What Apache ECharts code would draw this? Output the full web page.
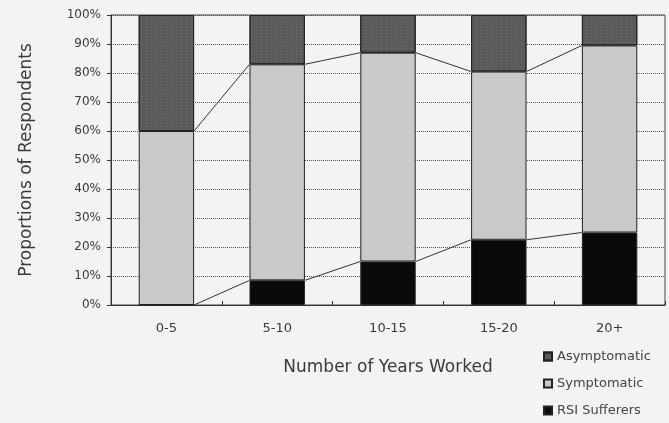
<!DOCTYPE html>
<html><head><meta charset="utf-8">
<script src="https://cdn.jsdelivr.net/npm/echarts@6/dist/echarts.min.js"></script>
<style>html,body{margin:0;padding:0;background:#f3f3f1;}#c{width:669px;height:423px;}</style>
</head><body><div id="c"></div>
<script>
const categories = ['0-5', '5-10', '10-15', '15-20', '20+'];
const rsiSufferers = [0, 8.5, 15, 22.5, 25];
const symptomatic = [60, 74.5, 72, 58, 64.5];
const asymptomatic = [40, 17, 13, 19.5, 10.5];
const yTicks = [0, 10, 20, 30, 40, 50, 60, 70, 80, 90, 100];

const symTop = symptomatic.map((v, i) => v + rsiSufferers[i]);
const BAR_FRAC = 0.5;

const chart = echarts.init(document.getElementById('c'), null, {renderer: 'canvas'});

function connector(topArr) {
  return {
    type: 'custom',
    silent: true,
    z: 5,
    data: topArr.slice(0, -1).map((v, i) => [i, v, i + 1, topArr[i + 1]]),
    renderItem: function (params, api) {
      const p1 = api.coord([api.value(0), api.value(1)]);
      const p2 = api.coord([api.value(2), api.value(3)]);
      const bw = api.size([1, 0])[0] * BAR_FRAC / 2;
      return {
        type: 'line',
        shape: {x1: p1[0] + bw, y1: p1[1], x2: p2[0] - bw, y2: p2[1]},
        style: {stroke: '#333', lineWidth: 1}
      };
    }
  };
}

const barBase = {type: 'bar', stack: 'all', barWidth: '50%'};
const FONT = 'DejaVu Sans, Liberation Sans, sans-serif';

chart.setOption({
  backgroundColor: '#f3f3f1',
  animation: false,
  textStyle: {fontFamily: FONT},
  grid: {left: 111, right: 4, top: 15, bottom: 118, show: true, borderColor: '#444', borderWidth: 1, backgroundColor: 'transparent'},
  legend: {
    orient: 'vertical', left: 538, top: 345, itemGap: 14,
    itemWidth: 8, itemHeight: 8, icon: 'rect',
    textStyle: {fontSize: 13, color: '#444', fontFamily: FONT},
    data: ['Asymptomatic', 'Symptomatic', 'RSI Sufferers']
  },
  xAxis: {
    type: 'category', data: categories,
    name: 'Number of Years Worked', nameLocation: 'middle', nameGap: 54,
    nameTextStyle: {fontSize: 17, color: '#3a3a3a', fontFamily: FONT},
    axisLine: {lineStyle: {color: '#333'}},
    axisTick: {show: true, inside: true, length: 4, lineStyle: {color: '#333'}},
    axisLabel: {fontSize: 13, color: '#3a3a3a', margin: 17, fontFamily: FONT}
  },
  yAxis: {
    type: 'value', min: 0, max: 100, interval: 10,
    name: 'Proportions of Respondents', nameLocation: 'middle', nameGap: 76,
    nameTextStyle: {fontSize: 17, color: '#3a3a3a', fontFamily: FONT},
    axisLine: {show: true, lineStyle: {color: '#333'}},
    axisTick: {show: true, length: 4, lineStyle: {color: '#333'}},
    axisLabel: {fontSize: 12, color: '#3a3a3a', margin: 10, fontFamily: FONT, formatter: v => yTicks.includes(v) ? v + '%' : ''},
    splitLine: {show: true, lineStyle: {type: 'dotted', color: '#555', width: 1}}
  },
  series: [
    Object.assign({}, barBase, {name: 'RSI Sufferers', data: rsiSufferers, itemStyle: {color: '#0a0a0a', borderColor: '#222', borderWidth: 1}}),
    Object.assign({}, barBase, {name: 'Symptomatic', data: symptomatic, itemStyle: {color: '#c9c9c7', borderColor: '#222', borderWidth: 1}}),
    Object.assign({}, barBase, {name: 'Asymptomatic', data: asymptomatic, itemStyle: {color: '#5a5a5a', borderColor: '#222', borderWidth: 1,
      decal: {symbol: 'rect', symbolSize: 0.6, color: 'rgba(140,140,140,0.6)', dashArrayX: [3, 2], dashArrayY: [1, 2], rotation: 0}}}),
    connector(rsiSufferers),
    connector(symTop)
  ]
});
</script></body></html>
